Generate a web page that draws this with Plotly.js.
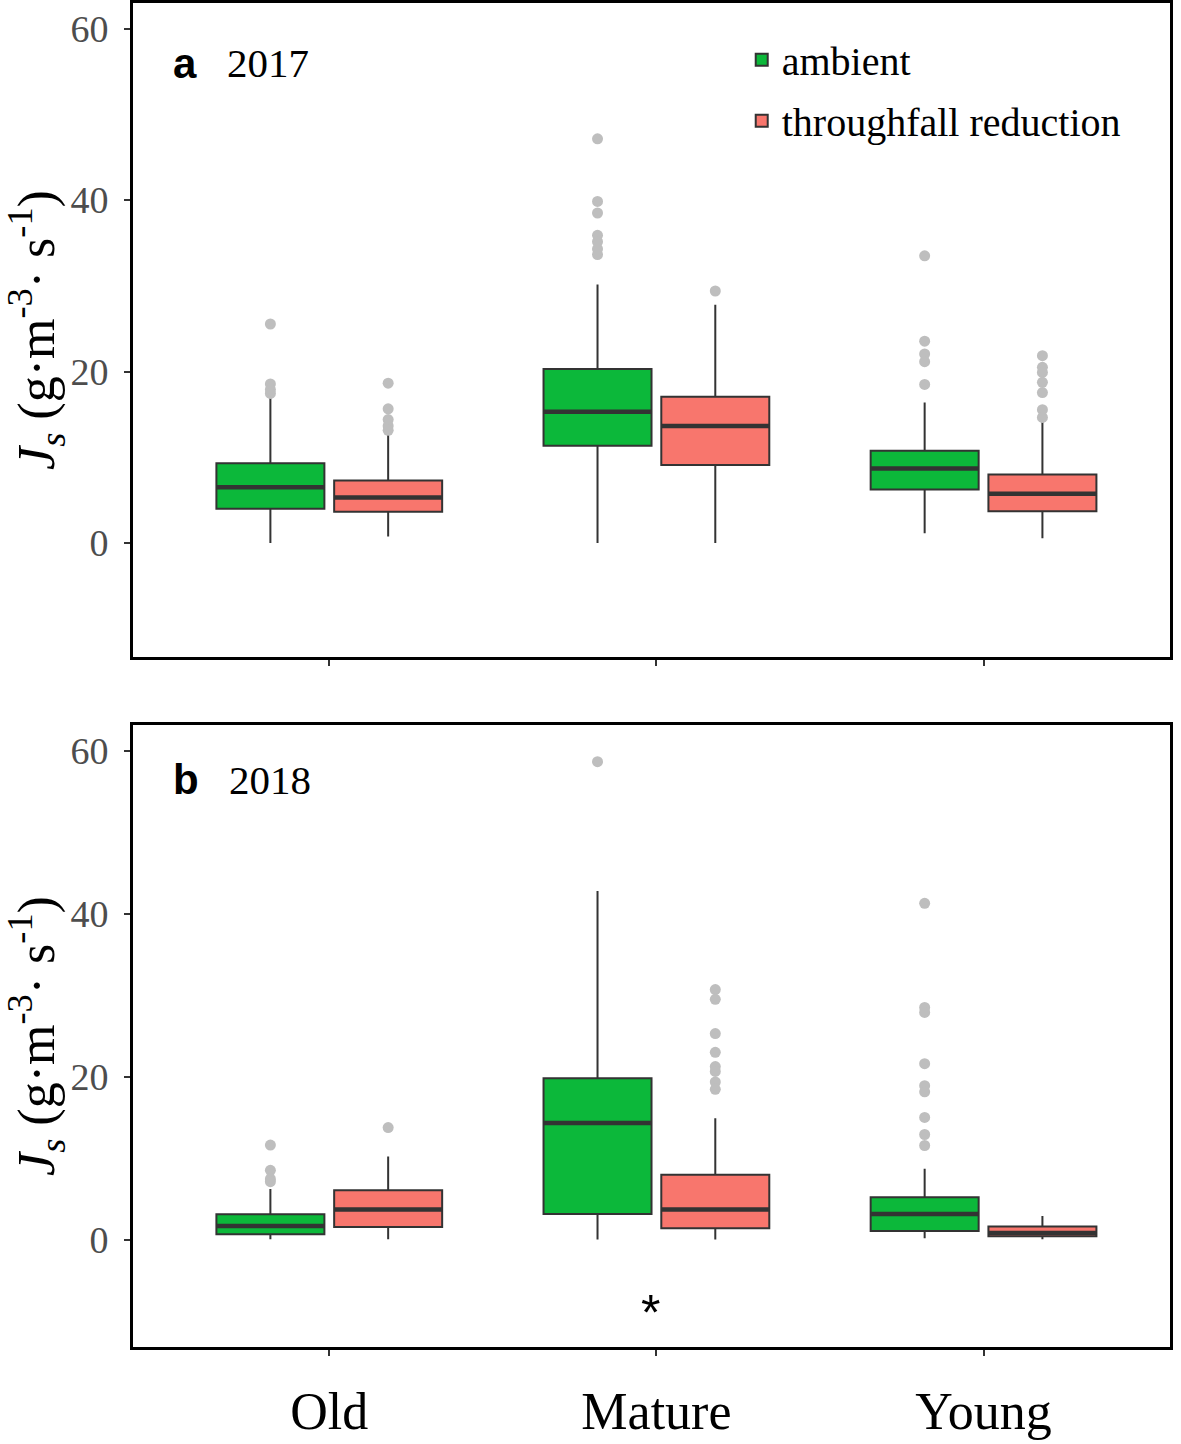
<!DOCTYPE html>
<html>
<head>
<meta charset="utf-8">
<script src="https://cdn.plot.ly/plotly-3.0.1.min.js"></script>
<style>html,body{margin:0;padding:0;background:#fff;}#chart{width:1181px;height:1444px;}</style>
</head>
<body>
<div id="chart"></div>
<script>
// ---------- data ----------
const categories = ['Old', 'Mature', 'Young'];
const seriesNames = ['ambient', 'throughfall reduction'];

// Panel a: 2017
const a_amb_q1     = [4.0, 11.35, 6.25];
const a_amb_median = [6.5, 15.3, 8.7];
const a_amb_q3     = [9.3, 20.3, 10.75];
const a_amb_low    = [0.0, 0.0, 1.15];
const a_amb_high   = [17.15, 30.15, 16.4];
const a_amb_out = [
  [25.55, 18.55, 17.9, 17.45],
  [47.15, 39.85, 38.5, 35.9, 35.15, 34.3, 33.65],
  [33.5, 23.55, 22.05, 21.15, 18.5]
];
const a_tr_q1     = [3.65, 9.1, 3.7];
const a_tr_median = [5.3, 13.65, 5.75];
const a_tr_q3     = [7.3, 17.05, 8.0];
const a_tr_low    = [0.75, 0.0, 0.55];
const a_tr_high   = [12.65, 27.8, 14.15];
const a_tr_out = [
  [18.65, 15.65, 14.4, 13.65, 13.15],
  [29.4],
  [21.85, 20.5, 19.9, 18.75, 17.55, 15.55, 14.65]
];

// Panel b: 2018
const b_amb_q1     = [0.65, 3.15, 1.05];
const b_amb_median = [1.65, 14.3, 3.15];
const b_amb_q3     = [3.1, 19.8, 5.2];
const b_amb_low    = [0.05, 0.0, 0.15];
const b_amb_high   = [6.2, 42.8, 8.7];
const b_amb_out = [
  [11.6, 8.5, 7.45, 7.1],
  [58.7],
  [41.3, 28.5, 27.9, 21.6, 18.9, 18.15, 15.0, 12.9, 11.55]
];
const b_tr_q1     = [1.55, 1.4, 0.4];
const b_tr_median = [3.7, 3.7, 0.8];
const b_tr_q3     = [6.05, 7.95, 1.6];
const b_tr_low    = [0.05, 0.0, 0.05];
const b_tr_high   = [10.2, 14.9, 2.9];
const b_tr_out = [
  [13.75],
  [30.7, 29.5, 25.3, 23.0, 21.25, 20.65, 19.35, 18.45],
  [],
];

const signifCategory = ['Mature'];
const signifValue = [-8];
const signifLabel = ['*'];

// ---------- style ----------
const GREEN = '#0CB83A';
const RED = '#F8766D';
const EDGE = '#333333';
const OUTC = '#BEBEBE';
const SERIF = '"Liberation Serif", "Times New Roman", serif';
const SANS = '"Liberation Sans", Arial, sans-serif';

function boxTrace(name, color, q1, med, q3, lo, hi, xa, ya, og, ag, showleg) {
  return {
    type: 'box', name: name, x: categories,
    q1: q1, median: med, q3: q3, lowerfence: lo, upperfence: hi,
    fillcolor: color, line: {color: EDGE, width: 2},
    whiskerwidth: 0, boxpoints: false, hoverinfo: 'skip',
    xaxis: xa, yaxis: ya, offsetgroup: og, alignmentgroup: ag,
    showlegend: showleg, legendgroup: og
  };
}
function medianTrace(med, xa, ya, og, ag) {
  return {
    type: 'box', x: categories,
    q1: med, median: med, q3: med, lowerfence: med, upperfence: med,
    fillcolor: 'rgba(0,0,0,0)', line: {color: EDGE, width: 4.5},
    whiskerwidth: 0, boxpoints: false, hoverinfo: 'skip',
    xaxis: xa, yaxis: ya, offsetgroup: og, alignmentgroup: ag,
    showlegend: false
  };
}
function outTrace(lists, xa, ya, og, ag) {
  const xs = [], ys = [];
  lists.forEach((vals, i) => vals.forEach(v => { xs.push(categories[i]); ys.push(v); }));
  return {
    type: 'scatter', mode: 'markers', x: xs, y: ys,
    marker: {color: OUTC, size: 11, line: {width: 0}},
    xaxis: xa, yaxis: ya, offsetgroup: og, alignmentgroup: ag,
    showlegend: false, hoverinfo: 'skip'
  };
}

const data = [
  boxTrace(seriesNames[0], GREEN, a_amb_q1, a_amb_median, a_amb_q3, a_amb_low, a_amb_high, 'x', 'y', 'amb', 'A', true),
  boxTrace(seriesNames[1], RED, a_tr_q1, a_tr_median, a_tr_q3, a_tr_low, a_tr_high, 'x', 'y', 'tr', 'A', true),
  medianTrace(a_amb_median, 'x', 'y', 'amb', 'A'),
  medianTrace(a_tr_median, 'x', 'y', 'tr', 'A'),
  boxTrace(seriesNames[0], GREEN, b_amb_q1, b_amb_median, b_amb_q3, b_amb_low, b_amb_high, 'x2', 'y2', 'amb', 'B', false),
  boxTrace(seriesNames[1], RED, b_tr_q1, b_tr_median, b_tr_q3, b_tr_low, b_tr_high, 'x2', 'y2', 'tr', 'B', false),
  medianTrace(b_amb_median, 'x2', 'y2', 'amb', 'B'),
  medianTrace(b_tr_median, 'x2', 'y2', 'tr', 'B'),
  outTrace(a_amb_out, 'x', 'y', 'amb', 'A'),
  outTrace(a_tr_out, 'x', 'y', 'tr', 'A'),
  outTrace(b_amb_out, 'x2', 'y2', 'amb', 'B'),
  outTrace(b_tr_out, 'x2', 'y2', 'tr', 'B'),
];

const xBase = {
  type: 'category', categoryorder: 'array', categoryarray: categories,
  range: [-0.6, 2.57], showline: true, mirror: true, linecolor: '#000', linewidth: 3,
  ticks: 'outside', ticklen: 6, tickwidth: 2, tickcolor: '#333',
  showgrid: false, zeroline: false, fixedrange: true
};
const yTitle = {
  text: '<i>J</i><sub><i>s</i></sub> (g·m<sup>-3</sup>· s<sup>-1</sup>)',
  font: {family: SERIF, size: 52, color: '#000'}, standoff: 4
};
const yBase = {
  showline: true, mirror: true, linecolor: '#000', linewidth: 3,
  ticks: 'outside', ticklen: 6, tickwidth: 2, tickcolor: '#333',
  tickvals: [0, 20, 40, 60], ticklabelstandoff: 8,
  tickfont: {family: SERIF, size: 38, color: '#4D4D4D'},
  showgrid: false, zeroline: false, fixedrange: true, title: yTitle
};

const layout = {
  width: 1181, height: 1444,
  margin: {l: 133, r: 11, t: 3, b: 97},
  paper_bgcolor: '#fff', plot_bgcolor: '#fff',
  boxmode: 'group', boxgap: 0.28, boxgroupgap: 0.083,
  scattermode: 'group', scattergap: 0.28,
  xaxis: Object.assign({}, xBase, {anchor: 'y', showticklabels: false}),
  yaxis: Object.assign({}, yBase, {domain: [0.5134, 1], anchor: 'x', range: [-13.3, 63.0]}),
  xaxis2: Object.assign({}, xBase, {anchor: 'y2', showticklabels: true,
    tickfont: {family: SERIF, size: 52, color: '#000'}, ticklabelstandoff: 11}),
  yaxis2: Object.assign({}, yBase, {domain: [0, 0.4628], anchor: 'x2', range: [-13.2, 63.2]}),
  showlegend: true,
  legend: {
    x: 0.587, y: 0.982, xanchor: 'left', yanchor: 'top',
    font: {family: SERIF, size: 40, color: '#000'},
    bgcolor: 'rgba(0,0,0,0)', tracegroupgap: 6, itemwidth: 30
  },
  annotations: [
    {xref: 'x domain', yref: 'y domain', x: 0.037, y: 0.908, xanchor: 'left', yanchor: 'middle',
     text: '<b>a</b>', showarrow: false, font: {family: SANS, size: 42, color: '#000'}},
    {xref: 'x domain', yref: 'y domain', x: 0.089, y: 0.908, xanchor: 'left', yanchor: 'middle',
     text: '2017', showarrow: false, font: {family: SERIF, size: 41, color: '#000'}},
    {xref: 'x2 domain', yref: 'y2 domain', x: 0.037, y: 0.9116, xanchor: 'left', yanchor: 'middle',
     text: '<b>b</b>', showarrow: false, font: {family: SANS, size: 42, color: '#000'}},
    {xref: 'x2 domain', yref: 'y2 domain', x: 0.091, y: 0.9116, xanchor: 'left', yanchor: 'middle',
     text: '2018', showarrow: false, font: {family: SERIF, size: 41, color: '#000'}},
  ].concat(signifCategory.map((c, i) => ({
    xref: 'x2', yref: 'y2', x: c, y: signifValue[i], text: signifLabel[i], showarrow: false,
    xshift: -6, yshift: -8, font: {family: SANS, size: 50, color: '#000'}
  })))
};

Plotly.newPlot('chart', data, layout, {displayModeBar: false, staticPlot: true});
</script>
</body>
</html>
